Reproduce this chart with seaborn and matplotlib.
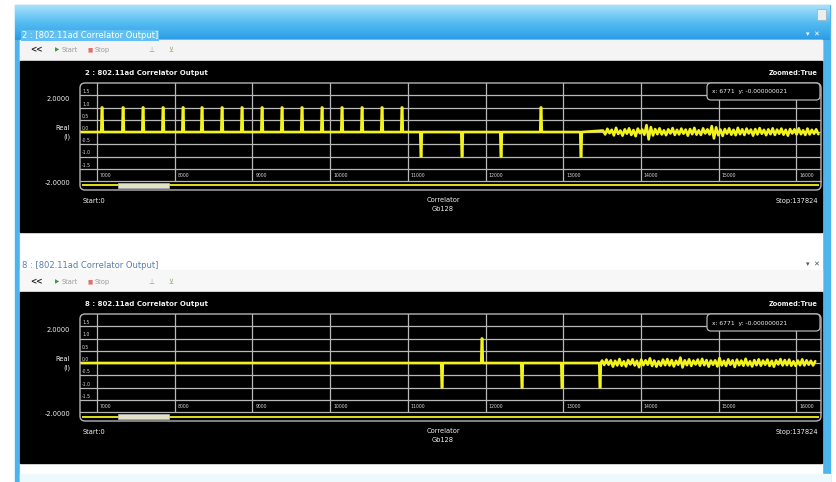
import matplotlib
matplotlib.use("Agg")
import matplotlib.pyplot as plt
from matplotlib.patches import Rectangle, FancyBboxPatch
import numpy as np
import pandas as pd
import seaborn as sns

W, H = 836, 482

# sample window shown in both panels and full record length
view_start, view_stop = 6780, 16318
record_stop = 137824
grid_ticks = [7000, 8000, 9000, 10000, 11000, 12000, 13000, 14000, 15000, 16000]
tick_labels = ["7000", "8000", "9000", "10000", "11000", "12000", "13000", "14000", "15000", "16000"]
inner_levels = [1.5, 1.0, 0.5, 0.0, -0.5, -1.0, -1.5]
inner_labels = ["1.5", "1.0", "0.5", "0.0", "-0.5", "-1.0", "-1.5"]

# panel "2" (top)
top_spike_pos = [7064, 7335, 7592, 7850, 8107, 8351, 8609, 8866, 9124, 9381, 9638, 9896,
                 10153, 10411, 10668, 10925, 11170, 11698, 12200, 12714, 13229]
top_spike_amp = [1.0, 1.0, 1.0, 1.0, 1.0, 1.0, 1.0, 1.0, 1.0, 1.0, 1.0, 1.0,
                 1.0, 1.0, 1.0, 1.0, -1.0, -1.0, -1.0, 1.0, -1.0]
top_noise_start = 13512
top_noise = [0.06, -0.10, 0.13, -0.05, 0.09, -0.14, 0.17, -0.08, 0.06, -0.15, 0.11, -0.07,
             0.15, -0.12, 0.08, -0.17, 0.14, -0.05, 0.10, -0.11, 0.28, -0.30, 0.20, -0.14,
             0.12, -0.09, 0.15, -0.10, 0.07, -0.13, 0.11, -0.06, 0.16, -0.12, 0.09, -0.10,
             0.14, -0.07, 0.10, -0.15, 0.12, -0.09, 0.17, -0.11, 0.07, -0.12, 0.15, -0.06,
             0.11, -0.10, 0.24, -0.26, 0.19, -0.13, 0.10, -0.16, 0.12, -0.07, 0.15, -0.11,
             0.09, -0.13, 0.17, -0.09, 0.11, -0.12, 0.14, -0.06, 0.10, -0.15, 0.12, -0.10,
             0.16, -0.07, 0.09, -0.13, 0.11, -0.09, 0.15, -0.12, 0.10, -0.07, 0.14, -0.11,
             0.09, -0.15, 0.12, -0.06, 0.11, -0.10, 0.15, -0.09, 0.07, -0.12, 0.14, -0.10,
             0.09, -0.07, 0.11, -0.09]

# panel "8" (bottom)
bottom_spike_pos = [11440, 11955, 12470, 12985, 13474]
bottom_spike_amp = [-1.0, 1.0, -1.0, -1.0, -1.0]
bottom_noise_start = 13500
bottom_noise = [0.10, -0.08, 0.14, -0.07, 0.11, -0.15, 0.09, -0.10, 0.16, -0.11, 0.07,
                -0.14, 0.12, -0.06, 0.15, -0.10, 0.09, -0.17, 0.14, -0.09, 0.11, -0.07, 0.19,
                -0.12, 0.10, -0.15, 0.07, -0.11, 0.14, -0.09, 0.16, -0.10, 0.12, -0.14, 0.09,
                -0.07, 0.22, -0.18, 0.11, -0.09, 0.15, -0.12, 0.10, -0.06, 0.14, -0.11, 0.17,
                -0.09, 0.12, -0.15, 0.10, -0.07, 0.11, -0.14, 0.20, -0.10, 0.09, -0.12, 0.15,
                -0.07, 0.11, -0.16, 0.14, -0.09, 0.10, -0.11, 0.17, -0.10, 0.07, -0.14, 0.12,
                -0.09, 0.15, -0.11, 0.10, -0.07, 0.14, -0.12, 0.09, -0.15, 0.11, -0.06, 0.16,
                -0.10, 0.12, -0.09, 0.14, -0.11, 0.07, -0.12, 0.10, -0.09, 0.15, -0.10, 0.11,
                -0.07, 0.09, -0.10, 0.07]
noise_step = 28

SIGNAL = "#f2f21c"
GRID = "#b8b8b8"
TEXT = "#f0f0f0"


def build_trace(spike_pos, spike_amp, noise_start, noise_vals):
    """Baseline with narrow spikes, followed by the noisy tail."""
    xs, ys = [view_start], [0.0]
    for p, a in zip(spike_pos, spike_amp):
        xs += [p - 10, p - 3, p + 3, p + 10]
        ys += [0.0, a, a, 0.0]
    for i, v in enumerate(noise_vals):
        xs.append(noise_start + i * noise_step)
        ys.append(v)
    return pd.DataFrame({"sample": xs, "real": ys})


def px_rect(x0, y0, x1, y1):
    return [x0 / W, 1 - y1 / H, (x1 - x0) / W, (y1 - y0) / H]


sns.set_theme(style="dark")
plt.rcParams["font.family"] = ["DejaVu Sans"]

fig = plt.figure(figsize=(W / 100, H / 100), dpi=100, facecolor="white")

# window chrome drawn in pixel coordinates
bg = fig.add_axes([0, 0, 1, 1], zorder=0)
bg.set_xlim(0, W)
bg.set_ylim(H, 0)
bg.axis("off")
bg.add_patch(Rectangle((15, 5), 815, 477, color="#4db4ee"))
grad = np.linspace(0, 1, 50).reshape(-1, 1)
bg.imshow(grad, extent=[15, 830, 40, 5], cmap=matplotlib.colors.LinearSegmentedColormap.from_list(
    "bar", ["#a8e0fa", "#55bcf2", "#2a9de6"]), aspect="auto", zorder=1)
bg.add_patch(Rectangle((20, 40), 802, 442, color="white", zorder=2))
bg.add_patch(Rectangle((20, 40), 802, 20, color="#f4f4f4", zorder=2))
bg.add_patch(Rectangle((20, 270), 802, 20, color="#f7f7f7", zorder=2))
bg.add_patch(Rectangle((20, 474), 810, 8, color="#eef9fe", zorder=2))
bg.add_patch(Rectangle((817, 9), 9, 11, color="#e8eef2", ec="#99aabb", lw=0.5, zorder=3))
bg.text(22, 35, "2 : [802.11ad Correlator Output]", color="white", fontsize=6, va="center",
        zorder=3, bbox=dict(boxstyle="square,pad=0.12", fc="#62bff2", ec="none"))
bg.text(22, 265, "8 : [802.11ad Correlator Output]", color="#5a7fa8", fontsize=6, va="center", zorder=3)
bg.text(806, 34, "▾  ✕", color="white", fontsize=5, va="center", zorder=3)
bg.text(806, 264, "▾  ✕", color="#555555", fontsize=5, va="center", zorder=3)
for ty in (50, 282):
    bg.text(30, ty, "<<", color="#222222", fontsize=5.5, weight="bold", va="center", zorder=3)
    bg.text(55, ty, "▶", color="#3c9a3c", fontsize=4, va="center", zorder=3)
    bg.text(62, ty, "Start", color="#9a9a9a", fontsize=4.8, va="center", zorder=3)
    bg.text(88, ty, "■", color="#e07070", fontsize=4, va="center", zorder=3)
    bg.text(95, ty, "Stop", color="#9a9a9a", fontsize=4.8, va="center", zorder=3)
    bg.text(148, ty, "⊥", color="#7fa0c0", fontsize=5, va="center", zorder=3)
    bg.text(168, ty, "⊻", color="#8ab070", fontsize=5, va="center", zorder=3)

# overlay for frames, readouts and labels
ov = fig.add_axes([0, 0, 1, 1], zorder=5)
ov.set_xlim(0, W)
ov.set_ylim(H, 0)
ov.axis("off")
ov.patch.set_alpha(0)

panels = [
    (0, "2", build_trace(top_spike_pos, top_spike_amp, top_noise_start, top_noise)),
    (231, "8", build_trace(bottom_spike_pos, bottom_spike_amp, bottom_noise_start, bottom_noise)),
]

for dy, number, df in panels:
    bg.add_patch(Rectangle((20, 61 + dy), 802, 171, color="black", zorder=2))

    ax = fig.add_axes(px_rect(80, 83 + dy, 821, 181 + dy), zorder=1)
    ax.set_facecolor("black")
    ax.set_axisbelow(True)
    sns.lineplot(data=df, x="sample", y="real", ax=ax, color=SIGNAL, lw=1.9,
                 estimator=None, sort=False, legend=False)
    ax.set_xlim(view_start, view_stop)
    ax.set_ylim(-2, 2)
    ax.set_xticks(grid_ticks)
    ax.set_yticks(inner_levels)
    ax.grid(True, color=GRID, lw=0.9)
    ax.tick_params(length=0, labelbottom=False, labelleft=False)
    ax.set_xlabel("")
    ax.set_ylabel("")
    for s in ax.spines.values():
        s.set_visible(False)
    for lvl, lab in zip(inner_levels, inner_labels):
        ax.annotate(lab, xy=(0, lvl), xycoords=("axes fraction", "data"), xytext=(2, 1),
                    textcoords="offset pixels", color="#d8d8d8", fontsize=3.3, va="bottom")
    for t, lab in zip(grid_ticks, tick_labels):
        ax.annotate(lab, xy=(t, -2), xycoords="data", xytext=(3, 3),
                    textcoords="offset pixels", color="#d8d8d8", fontsize=3.3, va="bottom")

    # overview / scroll strip
    sc = fig.add_axes(px_rect(82, 181 + dy, 819, 190 + dy), zorder=1)
    sc.set_facecolor("black")
    sc.set_xlim(0, record_stop)
    sc.set_ylim(-1, 1)
    sc.axhline(0, color=SIGNAL, lw=1.3)
    sc.add_patch(Rectangle((view_start, -0.55), view_stop - view_start, 1.1,
                           fc="#e2e2c8", ec="#bcbcbc", lw=0.5, zorder=3))
    sc.axis("off")

    ov.add_patch(FancyBboxPatch((80, 83 + dy), 741, 107, boxstyle="round,pad=0,rounding_size=5",
                                fill=False, ec="#b4b4b4", lw=1))
    ov.plot([80, 821], [181 + dy, 181 + dy], color="#b4b4b4", lw=0.9)
    ov.add_patch(FancyBboxPatch((707, 83 + dy), 113, 17, boxstyle="round,pad=0,rounding_size=4",
                                fc="black", ec="#b4b4b4", lw=0.9))
    ov.text(712, 92 + dy, "x: 6771  y: -0.000000021", color=TEXT, fontsize=4.3, va="center")

    ov.text(85, 73 + dy, f"{number} : 802.11ad Correlator Output", color=TEXT, fontsize=5,
            weight="bold", va="center")
    ov.text(818, 73 + dy, "Zoomed:True", color=TEXT, fontsize=4.8, weight="bold", va="center", ha="right")
    ov.text(70, 99 + dy, "2.0000", color=TEXT, fontsize=4.8, va="center", ha="right")
    ov.text(70, 128 + dy, "Real", color=TEXT, fontsize=4.8, va="center", ha="right")
    ov.text(70, 137 + dy, "(I)", color=TEXT, fontsize=4.8, va="center", ha="right")
    ov.text(70, 183 + dy, "-2.0000", color=TEXT, fontsize=4.8, va="center", ha="right")
    ov.text(83, 201 + dy, "Start:0", color=TEXT, fontsize=4.8, va="center")
    ov.text(443, 200 + dy, "Correlator", color=TEXT, fontsize=4.8, va="center", ha="center")
    ov.text(443, 209 + dy, "Gb128", color=TEXT, fontsize=4.8, va="center", ha="center")
    ov.text(818, 201 + dy, "Stop:137824", color=TEXT, fontsize=4.8, va="center", ha="right")

fig.savefig("out.png", dpi=100)
